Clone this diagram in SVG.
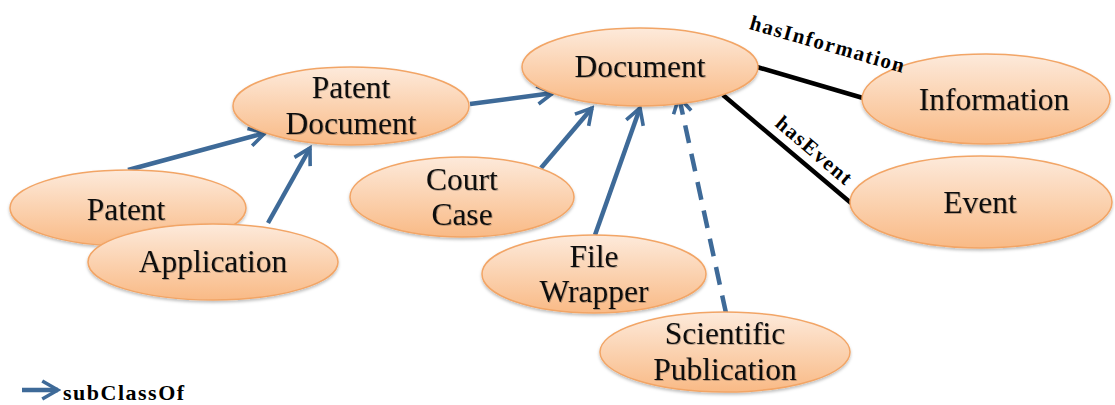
<svg xmlns="http://www.w3.org/2000/svg" width="1115" height="405" viewBox="0 0 1115 405">
  <defs>
    <linearGradient id="peach" x1="0" y1="0" x2="0" y2="1">
      <stop offset="0" stop-color="#FDEADB"/>
      <stop offset="0.5" stop-color="#FBD2B0"/>
      <stop offset="1" stop-color="#F9BA86"/>
    </linearGradient>
    <filter id="shadow" x="-10%" y="-10%" width="120%" height="130%">
      <feDropShadow dx="0" dy="2" stdDeviation="1.5" flood-color="#000" flood-opacity="0.25"/>
    </filter>
    <filter id="tshadow" x="-5%" y="-20%" width="110%" height="140%">
      <feDropShadow dx="0.8" dy="0.8" stdDeviation="0.6" flood-color="#000" flood-opacity="0.3"/>
    </filter>
    <marker id="open" viewBox="0 0 20 20" refX="17" refY="10" markerWidth="5" markerHeight="5" markerUnits="strokeWidth" orient="auto">
      <path d="M3,2 L17,10 L3,18" fill="none" stroke="#3E6A98" stroke-width="3.2" stroke-linecap="butt" stroke-linejoin="miter"/>
    </marker>
  </defs>
  <style>
    .node ellipse { fill: url(#peach); stroke: #F2A566; stroke-width: 1.5; filter: url(#shadow); }
    .node text { font-family: "Liberation Serif", "Times New Roman", serif; font-size: 31.5px; fill: #111; text-anchor: middle; filter: url(#tshadow); }
    .sub { stroke: #3E6A98; stroke-width: 4.5; fill: none; marker-end: url(#open); }
    .dash { stroke-dasharray: 18 11; }
    .prop { stroke: #000; stroke-width: 4.5; fill: none; }
    .plabel { font-family: "Liberation Serif", "Times New Roman", serif; font-size: 21px; font-weight: bold; letter-spacing: 1.5px; fill: #000; text-anchor: middle; }
  </style>

  <!-- connectors: subClassOf arrows (blue) and object properties (black) -->
  <g id="connectors">
    <line class="sub" x1="128" y1="170" x2="265" y2="133"/>
    <line class="sub" x1="268" y1="223" x2="310" y2="148"/>
    <line class="sub" x1="470" y1="104" x2="553" y2="93"/>
    <line class="sub" x1="541" y1="168" x2="592" y2="108"/>
    <line class="sub" x1="595" y1="235" x2="640" y2="108"/>
    <line class="sub dash" x1="726" y1="313" x2="679" y2="97"/>
    <line class="prop" x1="757" y1="67" x2="863" y2="98"/>
    <line class="prop" x1="723" y1="95" x2="851" y2="203"/>
  </g>

  <g id="node-document" class="node">
    <ellipse cx="640" cy="67" rx="118" ry="39"/>
    <text x="640" y="77">Document</text>
  </g>
  <g id="node-patent-document" class="node">
    <ellipse cx="351" cy="106" rx="118" ry="39"/>
    <text x="351" y="98">Patent</text>
    <text x="351" y="134">Document</text>
  </g>
  <g id="node-patent" class="node">
    <ellipse cx="128" cy="208" rx="118" ry="38"/>
    <text x="126" y="220">Patent</text>
  </g>
  <g id="node-application" class="node">
    <ellipse cx="213" cy="262" rx="125" ry="38"/>
    <text x="213" y="272">Application</text>
  </g>
  <g id="node-court-case" class="node">
    <ellipse cx="462" cy="197" rx="112" ry="40"/>
    <text x="462" y="190">Court</text>
    <text x="462" y="225">Case</text>
  </g>
  <g id="node-file-wrapper" class="node">
    <ellipse cx="594" cy="274" rx="112" ry="39"/>
    <text x="594" y="267">File</text>
    <text x="594" y="302">Wrapper</text>
  </g>
  <g id="node-scientific-publication" class="node">
    <ellipse cx="725" cy="352" rx="125" ry="40"/>
    <text x="725" y="344">Scientific</text>
    <text x="725" y="380">Publication</text>
  </g>
  <g id="node-information" class="node">
    <ellipse cx="986" cy="99" rx="124" ry="45"/>
    <text x="994" y="110">Information</text>
  </g>
  <g id="node-event" class="node">
    <ellipse cx="981" cy="202" rx="131" ry="46"/>
    <text x="980" y="213">Event</text>
  </g>

  <!-- property labels, drawn above the ellipses -->
  <g id="edge-labels">
    <text class="plabel" transform="translate(826,51) rotate(16)">hasInformation</text>
    <text class="plabel" transform="translate(810,156) rotate(40.5)">hasEvent</text>
  </g>

  <!-- legend -->
  <g id="legend">
    <line class="sub" x1="22" y1="390" x2="58" y2="390"/>
    <text x="63" y="400" font-family="Liberation Serif, Times New Roman, serif" font-size="22" font-weight="bold" letter-spacing="1.5" fill="#000">subClassOf</text>
  </g>
</svg>
